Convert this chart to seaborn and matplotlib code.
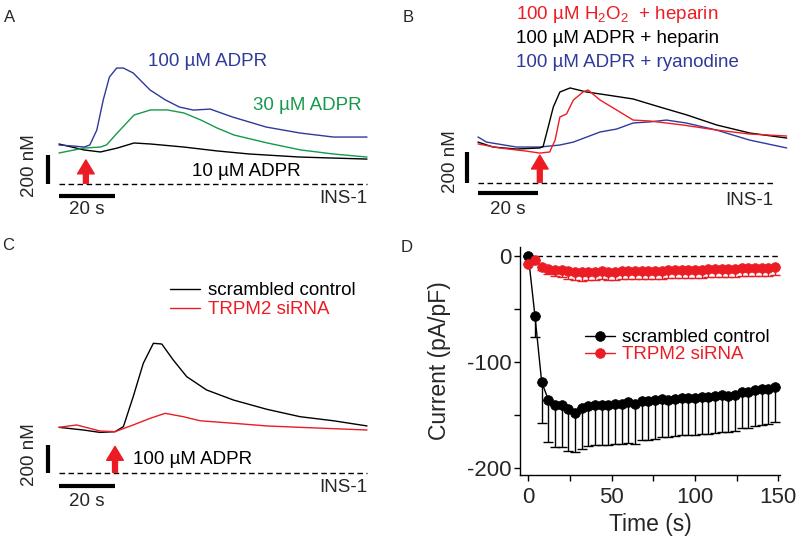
import matplotlib
matplotlib.use("Agg")
import matplotlib.pyplot as plt
import numpy as np
import seaborn as sns
from matplotlib.ticker import MultipleLocator

# ---- panel A: [Ca2+] traces, INS-1, ADPR dose (time s, nM above baseline)
a_t_100 = [0, 5, 9, 11, 13.5, 15.8, 18, 20.6, 23, 26.5, 32.5, 38, 43, 48, 54, 62, 74, 86, 98, 110]
a_ca_100 = [269, 262, 255, 269, 372, 580, 738, 800, 800, 766, 649, 580, 531, 510, 517, 462, 393, 352, 324, 324]
a_t_30 = [0, 8.9, 14.8, 17, 20.8, 26.8, 32.7, 38.7, 44.6, 50.6, 56.5, 62.5, 74.4, 86.3, 98, 110]
a_ca_30 = [214, 248, 255, 270, 352, 476, 511, 511, 490, 442, 386, 338, 283, 235, 207, 186]
a_t_10 = [0, 8.9, 14.8, 20.8, 26.8, 32.7, 44.6, 56.5, 68, 86, 110]
a_ca_10 = [276, 235, 221, 248, 283, 276, 255, 228, 207, 186, 172]

# ---- panel B: blockers
b_t_h2o2 = [0, 7.2, 16, 20.6, 23.9, 25.7, 27.3, 29.5, 31.8, 35, 36.7, 40.7, 46.2, 51.7, 57.2, 68.3, 79.4, 90.5, 102.9]
b_ca_h2o2 = [252, 226, 206, 193, 200, 277, 426, 445, 535, 587, 600, 535, 471, 406, 400, 374, 342, 316, 303]
b_t_hep = [0, 5, 12.8, 20.6, 21.7, 23.4, 25.1, 27.3, 30.7, 36.2, 42.9, 51.7, 60.6, 69.6, 79.6, 90.7, 102.9]
b_ca_hep = [264, 232, 219, 226, 235, 361, 490, 587, 613, 587, 568, 542, 490, 439, 374, 322, 290]
b_t_rya = [0, 2.8, 12.8, 20.6, 27.3, 31.8, 40.7, 46.2, 51.7, 57.2, 62.8, 69.4, 79.4, 90.5, 102.9]
b_ca_rya = [297, 264, 232, 232, 245, 264, 329, 348, 387, 394, 406, 387, 342, 277, 226]

# ---- panel C: siRNA
c_t_ctrl = [0, 8.7, 14.6, 20, 23, 26.5, 30.1, 33.7, 36.7, 40.8, 45.6, 52.7, 62.3, 74.2, 86.1, 98, 110]
c_ca_ctrl = [326, 307, 290, 295, 331, 545, 783, 926, 921, 807, 688, 593, 521, 455, 402, 373, 336]
c_t_si = [0, 6.3, 14.6, 20, 26.5, 32.5, 37.9, 44.4, 50.4, 62.3, 74.2, 86.1, 110]
c_ca_si = [326, 343, 300, 295, 343, 390, 426, 402, 373, 355, 336, 326, 307]

# ---- panel D: current density (mean, lower SEM)
d_time = list(range(0, 152, 4))
d_ctrl = [0, -57, -119, -136, -141, -141, -145, -148, -144, -142, -141, -141, -141, -140,
          -140, -138, -140, -137, -137, -136, -135, -136, -135, -134, -134, -134, -133, -133,
          -132, -131, -132, -131, -129, -129, -127, -126, -126, -124]
d_ctrl_err = [0, 20, 39, 40, 40, 40, 39, 37, 38, 38, 38, 38, 38, 38, 38, 39, 38, 37, 37,
              37, 36, 35, 35, 35, 35, 35, 35, 35, 35, 35, 34, 34, 34, 34, 34, 34, 33, 33]
d_si = [-8, -4, -10, -12, -13, -13, -14, -15, -15, -15, -15, -14, -15, -15, -14, -14, -14,
        -14, -14, -14, -14, -13, -13, -13, -13, -13, -13, -12, -12, -12, -12, -12, -11, -11,
        -11, -11, -11, -10]
d_si_err = [0, 0, 3, 5, 6, 7, 8, 8, 9, 8, 8, 8, 8, 8, 8, 8, 8, 8, 8, 8, 8, 8, 8, 8, 8, 8,
            8, 8, 8, 8, 8, 8, 8, 8, 8, 8, 8, 8]

RED = "#ec1c24"
BLUE = "#2e3a9a"
GREEN = "#149a4a"
FS = 13.5

sns.set_style("ticks")
plt.rcParams["font.family"] = ["Liberation Sans", "DejaVu Sans"]
plt.rcParams["mathtext.fontset"] = "custom"
plt.rcParams["mathtext.rm"] = "Liberation Sans"
plt.rcParams["axes.unicode_minus"] = False

W, H = 800, 544
fig = plt.figure(figsize=(8, 5.44), dpi=100)


def trace_axes(rect_px, x0, y0, sx, sy):
    """Axes in pixel rect; t=0 at x0 px, 0 nM at y0 px; sx px/s, sy nM/px."""
    l, t, r, b = rect_px
    ax = fig.add_axes([l / W, 1 - b / H, (r - l) / W, (b - t) / H])
    ax.set_xlim((l - x0) / sx, (r - x0) / sx)
    ax.set_ylim((y0 - b) * sy, (y0 - t) * sy)
    ax.axis("off")
    return ax


def decorate(ax, bar_x, bar_y, t_end, arrow_t, s_y, ins_y, nm_x, nm_y, tip=166):
    ax.plot([0, 20], [bar_y, bar_y], color="k", lw=3, solid_capstyle="butt")
    ax.plot([bar_x, bar_x], [0, 200], color="k", lw=3, solid_capstyle="butt")
    ax.plot([0, t_end], [0, 0], color="k", lw=1, ls=(0, (4, 2.5)))
    ax.text(10, s_y, "20 s", ha="center", va="center", fontsize=FS)
    ax.text(t_end, ins_y, "INS-1", ha="right", va="center", fontsize=FS)
    ax.text(nm_x, nm_y, "200 nM", ha="center", va="center", rotation=90, fontsize=FS)
    ax.annotate("", xy=(arrow_t, tip), xytext=(arrow_t, 5),
                arrowprops=dict(arrowstyle="simple,head_width=1.2,head_length=1.0,tail_width=0.35",
                                color=RED, mutation_scale=10, shrinkA=0, shrinkB=0))


# Panel A
axa = trace_axes((0, 30, 390, 225), 59, 184, 2.8, 6.9)
sns.lineplot(x=a_t_10, y=a_ca_10, ax=axa, color="k", lw=1)
sns.lineplot(x=a_t_30, y=a_ca_30, ax=axa, color=GREEN, lw=1)
sns.lineplot(x=a_t_100, y=a_ca_100, ax=axa, color=BLUE, lw=1)
decorate(axa, -4.0, -83, 110, 9.6, -179, -97, -10.4, 130)
axa.text(31.8, 842, "100 µM ADPR", color=BLUE, fontsize=FS, va="center")
axa.text(69.3, 545, "30 µM ADPR", color=GREEN, fontsize=FS, va="center")
axa.text(47.5, 83, "10 µM ADPR", color="k", fontsize=FS, va="center")

# Panel B
axb = trace_axes((420, 0, 800, 225), 478, 183, 3.0, 6.45)
sns.lineplot(x=b_t_rya, y=b_ca_rya, ax=axb, color=BLUE, lw=1)
sns.lineplot(x=b_t_hep, y=b_ca_hep, ax=axb, color="k", lw=1)
sns.lineplot(x=b_t_h2o2, y=b_ca_h2o2, ax=axb, color=RED, lw=1)
decorate(axb, -3.8, -66, 98.3, 20.6, -174, -110, -9.3, 140, tip=180)
axb.text(12.7, 1084, "100 µM H$_2$O$_2$  + heparin", color=RED, fontsize=FS, va="center")
axb.text(12.7, 935, "100 µM ADPR + heparin", color="k", fontsize=FS, va="center")
axb.text(12.7, 780, "100 µM ADPR + ryanodine", color=BLUE, fontsize=FS, va="center")

# Panel C
axc = trace_axes((0, 260, 390, 520), 59, 473, 2.8, 7.14)
sns.lineplot(x=c_t_ctrl, y=c_ca_ctrl, ax=axc, color="k", lw=1, label="scrambled control")
sns.lineplot(x=c_t_si, y=c_ca_si, ax=axc, color=RED, lw=1, label="TRPM2 siRNA")
decorate(axc, -4.0, -91, 110, 20, -207, -100, -10.4, 130, tip=190)
axc.text(26.4, 93, "100 µM ADPR", color="k", fontsize=FS, va="center")
axc.legend(loc="upper left", bbox_to_anchor=(170 / W, 1 - 282 / H), bbox_transform=fig.transFigure,
           frameon=False, fontsize=FS, borderpad=0, borderaxespad=0, handlelength=1.6,
           handletextpad=0.4, labelspacing=0.1, labelcolor="linecolor")

# Panel D
axd = fig.add_axes([520 / W, 1 - 475 / H, 260 / W, 228 / H])
axd.plot([0, 150], [0, 0], color="k", lw=1, ls=(0, (4, 2.5)), zorder=0)
axd.errorbar(d_time, d_ctrl, yerr=[d_ctrl_err, np.zeros(len(d_ctrl))], fmt="none",
             ecolor="k", elinewidth=1, capsize=3.5, capthick=1, zorder=1)
axd.errorbar(d_time, d_si, yerr=[d_si_err, np.zeros(len(d_si))], fmt="none",
             ecolor=RED, elinewidth=1, capsize=3.5, capthick=1, zorder=1)
sns.lineplot(x=d_time, y=d_ctrl, ax=axd, color="k", lw=1, marker="o", markersize=7,
             markeredgecolor="k", markeredgewidth=0.5, label="scrambled control", zorder=3)
sns.lineplot(x=d_time, y=d_si, ax=axd, color=RED, lw=1, marker="o", markersize=7,
             markeredgecolor=RED, markeredgewidth=0.5, label="TRPM2 siRNA", zorder=3)
axd.set_xlim(-5, 151)
axd.set_ylim(-207, 8.5)
axd.xaxis.set_major_locator(MultipleLocator(50))
axd.xaxis.set_minor_locator(MultipleLocator(25))
axd.yaxis.set_major_locator(MultipleLocator(100))
axd.yaxis.set_minor_locator(MultipleLocator(50))
axd.tick_params(which="both", direction="out", length=4.3, width=1, labelsize=16, color="k")
axd.tick_params(axis="y", pad=2)
axd.tick_params(axis="x", pad=4)
for s in ("left", "bottom"):
    axd.spines[s].set_linewidth(1)
    axd.spines[s].set_color("k")
sns.despine(ax=axd)
axd.set_xlabel("Time (s)", fontsize=16.5, labelpad=4)
axd.set_ylabel("Current (pA/pF)", fontsize=16.5, labelpad=11)
axd.legend(loc="upper left", bbox_to_anchor=(585 / W, 1 - 329 / H), bbox_transform=fig.transFigure,
           frameon=False, fontsize=FS, borderpad=0, borderaxespad=0, handlelength=1.6,
           handletextpad=0.4, labelspacing=0.0, labelcolor="linecolor")

for letter, (x, y) in {"A": (10, 17), "B": (408, 17), "C": (8, 245), "D": (407, 247)}.items():
    fig.text(x / W, 1 - y / H, letter, fontsize=12, ha="center", va="center")

fig.savefig("out.png", dpi=100)
